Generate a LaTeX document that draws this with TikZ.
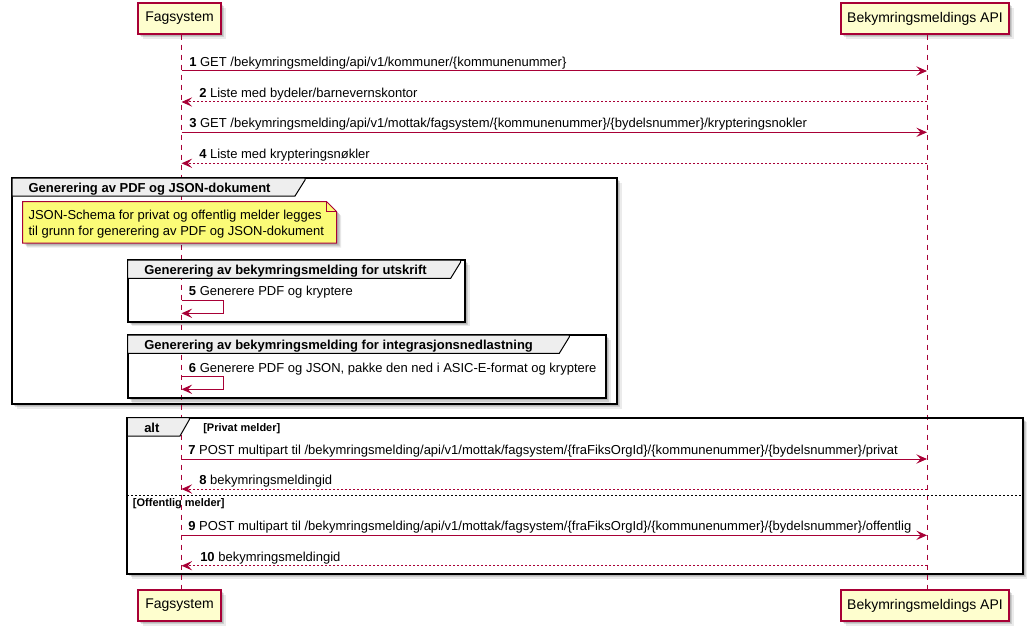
\documentclass[tikz,border=0pt]{standalone}
\usepackage{fontspec}
\setmainfont{Liberation Sans}
\usetikzlibrary{arrows.meta,shadows}
\definecolor{pred}{HTML}{A80036}
\definecolor{pyel}{HTML}{FEFECE}
\definecolor{nyel}{HTML}{FBFB77}
\definecolor{tabgray}{HTML}{EEEEEE}
\newcommand{\msgfont}{\fontsize{9.75pt}{11pt}\selectfont}
\newcommand{\partfont}{\fontsize{10.5pt}{12pt}\selectfont}
\newcommand{\guardfont}{\fontsize{8.25pt}{10pt}\selectfont\bfseries}
\tikzset{
  softshadow/.style={
    drop shadow={opacity=0.12, fill=black, shadow xshift=1.5pt, shadow yshift=-1.5pt},
    drop shadow={opacity=0.12, fill=black, shadow xshift=2.6pt, shadow yshift=-2.6pt},
    drop shadow={opacity=0.08, fill=black, shadow xshift=3.4pt, shadow yshift=-3.4pt}},
  part/.style={draw=pred, fill=pyel, line width=1.1pt, minimum height=31*0.75pt,
    inner sep=0pt, font=\partfont, softshadow},
  life/.style={draw=pred, line width=0.75pt, dash pattern=on 3.75pt off 3.75pt},
  msg/.style={draw=pred, line width=0.75pt,
    -{Stealth[length=8pt, width=7pt, inset=3.2pt]}},
  reply/.style={msg, dash pattern=on 1.5pt off 1.5pt},
  lbl/.style={anchor=base west, inner sep=0pt, font=\msgfont},
  grpback/.style={fill=white, softshadow},
  grpbox/.style={draw=black, line width=1.5pt},
  tabshape/.style={draw=black, line width=0.75pt, fill=tabgray},
  tabtext/.style={anchor=base west, inner sep=0pt, font=\msgfont\bfseries},
  guard/.style={anchor=base west, inner sep=0pt, font=\guardfont},
  notebox/.style={draw=pred, line width=0.75pt, fill=nyel, softshadow},
}
\begin{document}
\begin{tikzpicture}[x=0.75pt, y=-0.75pt]
\useasboundingbox (0,0) rectangle (1034,631);

% participants, top and bottom
\node[part, minimum width=83*0.75pt] (pf) at (179.5,18.5) {Fagsystem};
\node[part, minimum width=168*0.75pt] (pa) at (925,18.5) {Bekymringsmeldings API};
\node[part, minimum width=83*0.75pt] (pfb) at (179.5,605.5) {Fagsystem};
\node[part, minimum width=168*0.75pt] (pab) at (925,605.5) {Bekymringsmeldings API};

% fragment backgrounds with their shadows
\path[grpback] (12,178) rectangle (617,404);
\path[grpback] (127.7,260) rectangle (465,321.7);
\path[grpback] (127.7,335) rectangle (606,398.3);
\path[grpback] (127.3,417.7) rectangle (1022.7,574);

% lifelines
\coordinate (lf) at (181.5,0);
\coordinate (la) at (927,0);
\draw[life] (lf |- pf.south) -- (lf |- pfb.north);
\draw[life] (la |- pa.south) -- (la |- pab.north);

% messages 1-4
\draw[msg] (lf |- 0,71) -- (la |- 0,71);
\node[lbl] (m1) at (189,66.5) {\textbf{1} GET /bekymringsmelding/api/v1/kommuner/\{kommunenummer\}};
\draw[reply] (la |- 0,102) -- (lf |- 0,102);
\node[lbl] (m2) at (199,97.5) {\textbf{2} Liste med bydeler/barnevernskontor};
\draw[msg] (lf |- 0,132.3) -- (la |- 0,132.3);
\node[lbl] (m3) at (189,127.8) {\textbf{3} GET /bekymringsmelding/api/v1/mottak/fagsystem/\{kommunenummer\}/\{bydelsnummer\}/krypteringsnokler};
\draw[reply] (la |- 0,163.3) -- (lf |- 0,163.3);
\node[lbl] (m4) at (199,158.8) {\textbf{4} Liste med krypteringsnøkler};

% group: Generering av PDF og JSON-dokument
\draw[grpbox] (12,178) rectangle (617,404);
\draw[tabshape] (12,178) -- (305,178) -- (305,180) -- (295,196) -- (12,196) -- cycle;
\node[tabtext] (g1) at (28.3,192.7) {Generering av PDF og JSON-dokument};

% note
\draw[notebox] (22.7,201.7) -- (326.7,201.7) -- (336.7,211.7) -- (336.7,243) -- (22.7,243) -- cycle;
\draw[draw=pred, line width=0.75pt] (326.7,201.7) -- (326.7,211.7) -- (336.7,211.7);
\node[lbl] (n1) at (28.3,219.3) {JSON-Schema for privat og offentlig melder legges};
\node[lbl] (n2) at (28.3,235.3) {til grunn for generering av PDF og JSON-dokument};

% group: utskrift
\draw[grpbox] (127.7,260) rectangle (465,321.7);
\draw[tabshape] (127.7,260) -- (460.7,260) -- (460.7,262) -- (450.7,278.3) -- (127.7,278.3) -- cycle;
\node[tabtext] (g2) at (144,274.7) {Generering av bekymringsmelding for utskrift};
\draw[msg] (lf |- 0,300.7) -- ++(42,0) -- ++(0,12.6) -- (lf |- 0,313.3);
\node[lbl] (m5) at (188.7,295.7) {\textbf{5} Generere PDF og kryptere};

% group: integrasjonsnedlastning
\draw[grpbox] (127.7,335) rectangle (606,398.3);
\draw[tabshape] (127.7,335) -- (569.3,335) -- (569.3,337) -- (559.3,353.3) -- (127.7,353.3) -- cycle;
\node[tabtext] (g3) at (144,349.7) {Generering av bekymringsmelding for integrasjonsnedlastning};
\draw[msg] (lf |- 0,376.7) -- ++(42,0) -- ++(0,12.6) -- (lf |- 0,389.3);
\node[lbl] (m6) at (188.7,372) {\textbf{6} Generere PDF og JSON, pakke den ned i ASIC-E-format og kryptere};

% alt fragment
\draw[grpbox] (127.3,417.7) rectangle (1022.7,574);
\draw[tabshape] (127.3,417.7) -- (189.3,417.7) -- (189.3,419.7) -- (180,436) -- (127.3,436) -- cycle;
\node[tabtext] (alt) at (144,432.3) {alt};
\node[guard] (gd1) at (203,431.7) {[Privat melder]};
\draw[msg] (lf |- 0,459) -- (la |- 0,459);
\node[lbl] (m7) at (188,454.5) {\textbf{7} POST multipart til /bekymringsmelding/api/v1/mottak/fagsystem/\{fraFiksOrgId\}/\{kommunenummer\}/\{bydelsnummer\}/privat};
\draw[reply] (la |- 0,489) -- (lf |- 0,489);
\node[lbl] (m8) at (199,484.5) {\textbf{8} bekymringsmeldingid};
\draw[draw=black, line width=0.75pt, dash pattern=on 1.5pt off 1.5pt] (127.3,495) -- (1022.7,495);
\node[guard] (gd2) at (132.7,506) {[Offentlig melder]};
\draw[msg] (lf |- 0,535.3) -- (la |- 0,535.3);
\node[lbl] (m9) at (188,530.8) {\textbf{9} POST multipart til /bekymringsmelding/api/v1/mottak/fagsystem/\{fraFiksOrgId\}/\{kommunenummer\}/\{bydelsnummer\}/offentlig};
\draw[reply] (la |- 0,565.7) -- (lf |- 0,565.7);
\node[lbl] (m10) at (200,561.2) {\textbf{10} bekymringsmeldingid};
\end{tikzpicture}
\end{document}
